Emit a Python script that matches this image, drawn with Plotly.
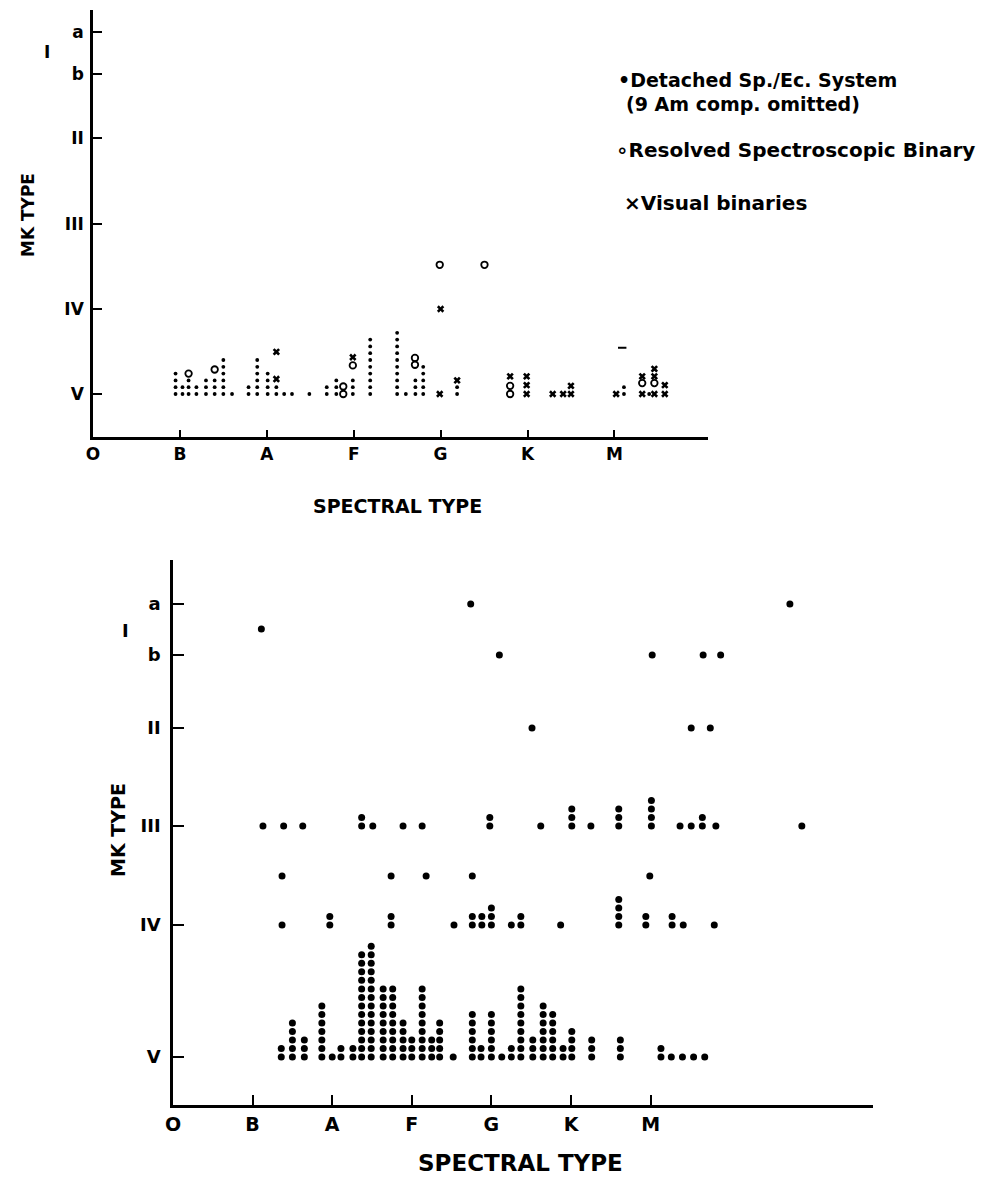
import plotly.graph_objects as go

W, H = 982, 1198
FONT = "DejaVu Sans"

# ---------------- axis categories ----------------
SPECTRAL_LABELS = ["O", "B", "A", "F", "G", "K", "M"]
SPECTRAL_VALUES = [0, 10, 20, 30, 40, 50, 60]          # spectral subclass scale (O0 = 0, B0 = 10, ...)
LUM_LABELS = ["V", "IV", "III", "II", "b", "a"]

# luminosity-class positions on each panel's vertical axis
TOP_LUM_POS = {"V": 0.0, "IV": 1.0, "III-IV": 1.52, "III": 2.0, "II": 3.01, "b": 3.76, "a": 4.26}
BOT_LUM_POS = {"V": 0.0, "IV": 1.333, "III-IV": 1.828, "III": 2.333, "II": 3.323,
               "b": 4.061, "Iab": 4.323, "a": 4.576}

# ---------------- upper panel data ----------------
# stacks of small points (all luminosity class V): spectral type, number of stars
TOP_DOT_SPT = [9.5, 10.3, 11.0, 11.9, 13.0, 14.0, 15.0, 16.0, 17.9, 18.9, 20.1, 21.1, 22.0,
               22.9, 24.9, 26.9, 28.0, 29.9, 31.9, 35.0, 36.0, 37.1, 38.0, 41.9, 61.1, 64.0]
TOP_DOT_N = [4, 2, 3, 2, 3, 3, 6, 1, 2, 6, 4, 2, 1,
             1, 1, 2, 3, 3, 9, 10, 1, 3, 5, 2, 2, 1]

# resolved spectroscopic binaries: spectral type, class, stack level
TOP_CIRC_SPT = [11.0, 14.0, 28.8, 28.8, 29.9, 37.05, 37.05, 39.9, 45.05, 48.0, 48.0, 63.2, 64.6]
TOP_CIRC_LUM = ["V", "V", "V", "V", "V", "V", "V", "III-IV", "III-IV", "V", "V", "V", "V"]
TOP_CIRC_LVL = [3.0, 3.6, 0.0, 1.1, 4.2, 4.3, 5.3, 0.0, 0.0, 0.0, 1.2, 1.6, 1.6]

# visual binaries: spectral type, class, stack level
TOP_X_SPT = [21.1, 21.1, 29.9, 39.9, 40.0, 41.9, 48.0, 49.9, 49.9, 49.9, 52.9, 54.1, 55.0,
             55.0, 60.2, 63.2, 63.2, 64.6, 64.6, 64.6, 65.8, 65.8]
TOP_X_LUM = ["V", "V", "V", "V", "IV", "V", "V", "V", "V", "V", "V", "V", "V",
             "V", "V", "V", "V", "V", "V", "V", "V", "V"]
TOP_X_LVL = [2.2, 6.2, 5.4, 0.0, 0.0, 2.0, 2.6, 0.0, 1.3, 2.6, 0.0, 0.0, 0.0,
             1.2, 0.0, 0.0, 2.6, 0.0, 2.6, 3.7, 0.0, 1.3]

TOP_DASH_SPT = [60.9]
TOP_DASH_LUM = ["V"]
TOP_DASH_LVL = [6.8]

# ---------------- lower panel data (detached Sp./Ec. systems) ----------------
BOT_V_SPT = [13.6, 15.0, 16.5, 18.7, 20.0, 21.1, 22.6, 23.7, 24.9, 26.4, 27.6, 28.9, 30.0,
             31.3, 32.5, 33.5, 35.2, 37.6, 38.7, 40.0, 41.3, 42.5, 43.7, 45.2, 46.5, 47.7,
             49.0, 50.1, 52.6, 56.2, 61.3, 62.6, 64.0, 65.4, 66.8]
BOT_V_N = [2, 5, 3, 7, 1, 2, 2, 13, 14, 9, 9, 5, 3,
           9, 3, 5, 1, 6, 2, 6, 1, 2, 9, 3, 7, 6,
           2, 4, 3, 3, 2, 1, 1, 1, 1]

BOT_IV_SPT = [13.7, 19.7, 27.4, 35.3, 37.6, 38.8, 40.0, 42.5, 43.7, 48.7, 56.0, 59.4, 62.7, 64.1, 68.0]
BOT_IV_N = [1, 2, 2, 1, 2, 2, 3, 1, 2, 1, 4, 2, 2, 1, 1]

BOT_IIIIV_SPT = [13.7, 27.4, 31.8, 37.6, 59.9]
BOT_IIIIV_N = [1, 1, 1, 1, 1]

BOT_III_SPT = [11.3, 13.9, 16.3, 23.7, 25.1, 28.9, 31.3, 39.8, 46.2, 50.1, 52.5, 56.0,
               60.1, 63.7, 65.1, 66.5, 68.2, 79.0]
BOT_III_N = [1, 1, 1, 2, 1, 1, 1, 2, 1, 3, 1, 3,
             4, 1, 1, 2, 1, 1]

BOT_II_SPT = [45.1, 65.1, 67.5]
BOT_II_N = [1, 1, 1]

BOT_B_SPT = [41.0, 60.2, 66.6, 68.8]
BOT_B_N = [1, 1, 1, 1]

BOT_IAB_SPT = [11.1]
BOT_IAB_N = [1]

BOT_A_SPT = [37.4, 77.5]
BOT_A_N = [1, 1]

TOP_STEP = 0.08     # vertical spacing of stacked symbols (upper panel)
BOT_STEP = 0.086    # vertical spacing of stacked symbols (lower panel)


def stack_columns(spts, counts, lum, pos, step):
    xs, ys = [], []
    for s, n in zip(spts, counts):
        for k in range(n):
            xs.append(s)
            ys.append(pos[lum] + k * step)
    return xs, ys


def levels(spts, lums, lvls, pos, step):
    return list(spts), [pos[l] + k * step for l, k in zip(lums, lvls)]


fig = go.Figure()

# ---- upper panel ----
tx, ty = stack_columns(TOP_DOT_SPT, TOP_DOT_N, "V", TOP_LUM_POS, TOP_STEP)
fig.add_trace(go.Scatter(x=tx, y=ty, mode="markers", xaxis="x", yaxis="y",
                         marker=dict(symbol="circle", size=3.8, color="black"),
                         showlegend=False, hoverinfo="skip"))
cx, cy = levels(TOP_CIRC_SPT, TOP_CIRC_LUM, TOP_CIRC_LVL, TOP_LUM_POS, TOP_STEP)
fig.add_trace(go.Scatter(x=cx, y=cy, mode="markers", xaxis="x", yaxis="y",
                         marker=dict(symbol="circle-open", size=6.5, color="black",
                                     line=dict(width=1.8, color="black")),
                         showlegend=False, hoverinfo="skip"))
xx, xy = levels(TOP_X_SPT, TOP_X_LUM, TOP_X_LVL, TOP_LUM_POS, TOP_STEP)
fig.add_trace(go.Scatter(x=xx, y=xy, mode="markers", xaxis="x", yaxis="y",
                         marker=dict(symbol="x", size=6.5, color="black", line=dict(width=0)),
                         showlegend=False, hoverinfo="skip"))
dx, dy = levels(TOP_DASH_SPT, TOP_DASH_LUM, TOP_DASH_LVL, TOP_LUM_POS, TOP_STEP)
fig.add_trace(go.Scatter(x=dx, y=dy, mode="markers", xaxis="x", yaxis="y",
                         marker=dict(symbol="line-ew", size=6, color="black",
                                     line=dict(width=2, color="black")),
                         showlegend=False, hoverinfo="skip"))

# ---- lower panel ----
bx, by = [], []
for spts, counts, lum in [(BOT_V_SPT, BOT_V_N, "V"), (BOT_IV_SPT, BOT_IV_N, "IV"),
                          (BOT_IIIIV_SPT, BOT_IIIIV_N, "III-IV"), (BOT_III_SPT, BOT_III_N, "III"),
                          (BOT_II_SPT, BOT_II_N, "II"), (BOT_B_SPT, BOT_B_N, "b"),
                          (BOT_IAB_SPT, BOT_IAB_N, "Iab"), (BOT_A_SPT, BOT_A_N, "a")]:
    x_, y_ = stack_columns(spts, counts, lum, BOT_LUM_POS, BOT_STEP)
    bx += x_
    by += y_
fig.add_trace(go.Scatter(x=bx, y=by, mode="markers", xaxis="x2", yaxis="y2",
                         marker=dict(symbol="circle", size=7, color="black"),
                         showlegend=False, hoverinfo="skip"))

# ---------------- layout ----------------
def px_x(p):
    return p / W


def px_y(p):
    return 1 - p / H


TOP_L, TOP_R, TOP_T, TOP_B = 93, 708, 10, 437
BOT_L, BOT_R, BOT_T, BOT_B = 173, 873, 560, 1105
TOP_PX_PER_SUB = 8.69
BOT_PX_PER_SUB = 7.96
TOP_PX_PER_LUM = 85.0
BOT_PX_PER_LUM = 99.0
TOP_V_PX = 394
BOT_V_PX = 1057

axis_common = dict(showgrid=False, zeroline=False, showline=True, linecolor="black",
                   linewidth=2.5, ticks="inside", tickcolor="black", tickwidth=2,
                   color="black", automargin=False)

fig.update_layout(
    width=W, height=H, margin=dict(l=0, r=0, t=0, b=0, autoexpand=False),
    paper_bgcolor="white", plot_bgcolor="white", showlegend=False,
    xaxis=dict(domain=[px_x(TOP_L), px_x(TOP_R)],
               range=[0, (TOP_R - TOP_L) / TOP_PX_PER_SUB],
               tickvals=SPECTRAL_VALUES, ticktext=SPECTRAL_LABELS, ticklen=7,
               tickfont=dict(family=FONT, size=17, weight="bold", color="black"),
               anchor="y", **axis_common),
    yaxis=dict(domain=[px_y(TOP_B), px_y(TOP_T)],
               range=[(TOP_V_PX - TOP_B) / TOP_PX_PER_LUM, (TOP_V_PX - TOP_T) / TOP_PX_PER_LUM],
               tickvals=[TOP_LUM_POS[l] for l in LUM_LABELS], ticktext=LUM_LABELS, ticklen=9,
               tickfont=dict(family=FONT, size=17, weight="bold", color="black"),
               ticklabelstandoff=3, anchor="x", **axis_common),
    xaxis2=dict(domain=[px_x(BOT_L), px_x(BOT_R)],
                range=[0, (BOT_R - BOT_L) / BOT_PX_PER_SUB],
                tickvals=SPECTRAL_VALUES, ticktext=SPECTRAL_LABELS, ticklen=10,
                tickfont=dict(family=FONT, size=19, weight="bold", color="black"),
                anchor="y2", **axis_common),
    yaxis2=dict(domain=[px_y(BOT_B), px_y(BOT_T)],
                range=[(BOT_V_PX - BOT_B) / BOT_PX_PER_LUM, (BOT_V_PX - BOT_T) / BOT_PX_PER_LUM],
                tickvals=[BOT_LUM_POS[l] for l in LUM_LABELS], ticktext=LUM_LABELS, ticklen=11,
                tickfont=dict(family=FONT, size=18, weight="bold", color="black"),
                ticklabelstandoff=6, anchor="x2", **axis_common),
)


def note(text, x, y, size, xanchor="center", angle=0):
    fig.add_annotation(text=text, x=px_x(x), y=px_y(y), xref="paper", yref="paper",
                       showarrow=False, xanchor=xanchor, yanchor="middle", textangle=angle,
                       font=dict(family=FONT, size=size, color="black", weight="bold"))


# axis titles
note("MK TYPE", 28, 215, 17, angle=-90)
note("SPECTRAL TYPE", 397, 506, 19)
note("MK TYPE", 118, 830, 19, angle=-90)
note("SPECTRAL TYPE", 520, 1163, 23)
# supergiant class label
note("I", 47, 52, 17)
note("I", 125, 630, 18)
# key
note("•Detached Sp./Ec. System", 616, 80, 19, xanchor="left")
note("(9 Am comp. omitted)", 624, 104, 19, xanchor="left")
note("∘Resolved Spectroscopic Binary", 614, 150, 20, xanchor="left")
note("×Visual binaries", 622, 203, 20, xanchor="left")

fig.write_html("out.html")
